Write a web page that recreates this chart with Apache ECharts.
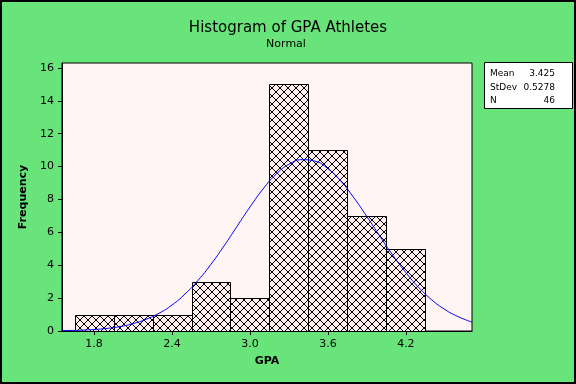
<!DOCTYPE html>
<html><head><meta charset="utf-8">
<script src="https://cdn.jsdelivr.net/npm/echarts@6/dist/echarts.min.js"></script>
<style>html,body{margin:0;padding:0;background:#68E47A}#c{width:576px;height:384px}</style>
</head><body><div id="c"></div>
<script>
// Histogram bins (GPA) and counts
const binEdges = [1.65, 1.95, 2.25, 2.55, 2.85, 3.15, 3.45, 3.75, 4.05, 4.35];
const counts = [1, 1, 1, 3, 2, 15, 11, 7, 5];
// Fitted normal curve
const curveX = [1.553, 1.6, 1.7, 1.8, 1.9, 2.0, 2.1, 2.2, 2.3, 2.4, 2.5, 2.6, 2.7, 2.8, 2.9, 3.0, 3.1, 3.2, 3.3, 3.4, 3.5, 3.6, 3.7, 3.8, 3.9, 4.0, 4.1, 4.2, 4.3, 4.4, 4.5, 4.6, 4.709];
const curveY = [0.02, 0.03, 0.05, 0.09, 0.16, 0.27, 0.45, 0.71, 1.08, 1.58, 2.25, 3.08, 4.06, 5.17, 6.36, 7.54, 8.63, 9.53, 10.14, 10.42, 10.33, 9.87, 9.11, 8.10, 6.96, 5.76, 4.60, 3.55, 2.64, 1.89, 1.31, 0.88, 0.54];
// Tick labels
const xTicks = [1.8, 2.4, 3.0, 3.6, 4.2];
const yTicks = [0, 2, 4, 6, 8, 10, 12, 14, 16];
// Stats box
const statLabels = ['Mean', 'StDev', 'N'];
const statValues = ['3.425', '0.5278', '46'];
const titleText = 'Histogram of GPA Athletes';
const subtitleText = 'Normal';

const FONT = 'DejaVu Sans';
// crosshatch pattern
const P = 8;
const pat = document.createElement('canvas');
pat.width = P; pat.height = P;
const pc = pat.getContext('2d');
pc.fillStyle = '#FFECEC'; pc.fillRect(0, 0, P, P);
pc.fillStyle = '#000';
for (let i = 0; i < P; i++) { pc.fillRect(i, i, 1, 1); pc.fillRect(P - 1 - i, i, 1, 1); }

const bins = counts.map((c, i) => [binEdges[i], binEdges[i + 1], c]);
const curve = curveX.map((x, i) => [x, curveY[i]]);

const chart = echarts.init(document.getElementById('c'), null, {renderer: 'canvas'});
const statGraphics = [];
statLabels.forEach((l, i) => {
  statGraphics.push({type: 'text', x: 490, y: 74 + i * 13.4, style: {text: l, font: '9px ' + FONT, fill: '#000', verticalAlign: 'middle'}});
  statGraphics.push({type: 'text', x: 555, y: 74 + i * 13.4, style: {text: statValues[i], font: '9px ' + FONT, fill: '#000', textAlign: 'right', verticalAlign: 'middle'}});
});
chart.setOption({
  backgroundColor: '#68E47A',
  animation: false,
  grid: {left: 62, right: 104, top: 63, bottom: 53, show: true, backgroundColor: '#FFF5F5', borderColor: '#000', borderWidth: 1},
  xAxis: {
    type: 'value', min: 1.553, max: 4.709,
    name: 'GPA', nameLocation: 'middle', nameGap: 25,
    nameTextStyle: {fontFamily: FONT, fontSize: 11, fontWeight: 'bold', color: '#000'},
    axisLine: {show: true, onZero: false, lineStyle: {color: '#000'}},
    axisTick: {show: true, length: 4, lineStyle: {color: '#000'}, customValues: xTicks},
    axisLabel: {customValues: xTicks, formatter: v => v.toFixed(1), fontFamily: FONT, fontSize: 11, color: '#000', margin: 8},
    splitLine: {show: false}
  },
  yAxis: {
    type: 'value', min: 0, max: 16.3,
    name: 'Frequency', nameLocation: 'middle', nameGap: 31,
    nameTextStyle: {fontFamily: FONT, fontSize: 11, fontWeight: 'bold', color: '#000'},
    axisLine: {show: true, lineStyle: {color: '#000'}},
    axisTick: {show: true, length: 4, lineStyle: {color: '#000'}, customValues: yTicks},
    axisLabel: {customValues: yTicks, fontFamily: FONT, fontSize: 11, color: '#000', margin: 8},
    splitLine: {show: false}
  },
  series: [
    {
      type: 'custom', data: bins, clip: true,
      renderItem: (params, api) => {
        const p0 = api.coord([api.value(0), api.value(2)]);
        const p1 = api.coord([api.value(1), 0]);
        return {type: 'rect', shape: {x: Math.round(p0[0]) + 0.5, y: Math.round(p0[1]) + 0.5, width: Math.round(p1[0]) - Math.round(p0[0]), height: Math.round(p1[1]) - Math.round(p0[1])},
          style: {fill: {image: pat, repeat: 'repeat'}, stroke: '#000', lineWidth: 1}};
      },
      encode: {x: [0, 1], y: 2}
    },
    {
      type: 'line', data: curve, smooth: true, showSymbol: false, clip: true,
      lineStyle: {color: '#0000FF', width: 1}, z: 5
    }
  ],
  graphic: [
    {type: 'text', x: 288, y: 28, style: {text: titleText, font: '15px ' + FONT, fill: '#000', textAlign: 'center', verticalAlign: 'middle'}},
    {type: 'text', x: 286, y: 44.5, style: {text: subtitleText, font: '11px ' + FONT, fill: '#000', textAlign: 'center', verticalAlign: 'middle'}},
    {type: 'rect', shape: {x: 484.5, y: 62.5, width: 88, height: 46}, style: {fill: '#fff', stroke: '#000', lineWidth: 1}},
    ...statGraphics,
    {type: 'rect', shape: {x: 1, y: 1, width: 574, height: 382}, style: {fill: 'none', stroke: '#000', lineWidth: 2}, silent: true}
  ]
});
</script></body></html>
